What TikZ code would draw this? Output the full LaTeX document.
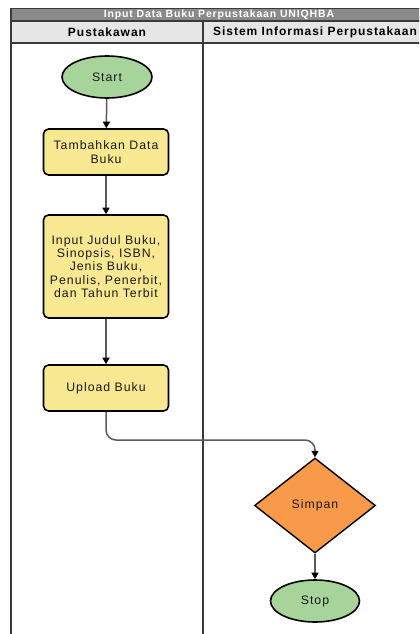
\documentclass[tikz,border=0pt]{standalone}
\usepackage{fontspec}
\setmainfont{Liberation Sans}[LetterSpace=8]
\usetikzlibrary{shapes.geometric,arrows.meta}
\definecolor{startgreen}{HTML}{A7D49B}
\definecolor{boxyellow}{HTML}{F8E891}
\definecolor{diaorange}{HTML}{F99A4A}
\definecolor{titlegray}{HTML}{8A8A8A}
\definecolor{headgray}{HTML}{E6E6E6}
\definecolor{lanecol}{HTML}{3A3A3A}
\definecolor{linkgray}{HTML}{5A5A5A}
\definecolor{txt}{HTML}{1A1A1A}
\tikzset{
  lane/.style={draw=lanecol, line width=1.8bp},
  term/.style={ellipse, draw=black, line width=1.6bp, fill=startgreen, minimum width=90bp, minimum height=42bp, inner sep=0pt, text=txt, font=\fontsize{12.3bp}{13.3bp}\selectfont},
  proc/.style={rectangle, rounded corners=5bp, draw=black, line width=1.6bp, fill=boxyellow, minimum width=125bp, inner sep=0pt, text=txt, align=center, font=\fontsize{12.3bp}{13.3bp}\selectfont},
  decide/.style={diamond, draw=black, line width=1.4bp, fill=diaorange, minimum width=121bp, minimum height=95bp, inner sep=0pt, text=txt, font=\fontsize{12.3bp}{13.3bp}\selectfont},
  link/.style={draw=linkgray, line width=1.5bp, -{Triangle[width=7bp,length=6.5bp,color=black]}},
}
\begin{document}
\begin{tikzpicture}[x=1bp,y=-1bp]
\useasboundingbox (0,0) rectangle (419,634);
\fill[white] (0,0) rectangle (419,634);
\clip (0,0) rectangle (419,634);
% pool
\fill[titlegray] (11,8.5) rectangle (427,21);
\fill[headgray] (11,21) rectangle (427,43);
\draw[lane] (11,8.5) rectangle (427,700);
\draw[lane] (11,21) -- (427,21);
\draw[lane] (11,43) -- (427,43);
\draw[lane] (203,21) -- (203,700);
\node[text=white, font=\bfseries\fontsize{10.5bp}{12bp}\selectfont] (title) at (219,15) {Input Data Buku Perpustakaan UNIQHBA};
\node[text=black, font=\bfseries\fontsize{12bp}{13bp}\selectfont] (h1) at (107,32.5) {Pustakawan};
\node[text=black, font=\bfseries\fontsize{12bp}{13bp}\selectfont] (h2) at (315,32.5) {Sistem Informasi Perpustakaan};
% nodes
\node[term] (start) at (107,77) {Start};
\node[proc, minimum height=46bp] (tambah) at (106,152) {Tambahkan Data\\Buku};
\node[proc, minimum height=103bp] (input) at (106,266.5) {Input Judul Buku,\\Sinopsis, ISBN,\\Jenis Buku,\\Penulis, Penerbit,\\dan Tahun Terbit};
\node[proc, minimum height=46bp] (upload) at (106,388) {Upload Buku};
\node[decide] (simpan) at (315,505.5) {Simpan};
\node[term, minimum width=89bp] (stop) at (315,601) {Stop};
\coordinate (bend) at (200,440);
% connectors
\draw[link] (start) -- (tambah);
\draw[link] (tambah) -- (input);
\draw[link] (input) -- (upload);
\draw[link, rounded corners=10bp] (upload.south) |- (bend) -| (simpan.north);
\draw[link] (simpan) -- (stop);
\end{tikzpicture}
\end{document}
